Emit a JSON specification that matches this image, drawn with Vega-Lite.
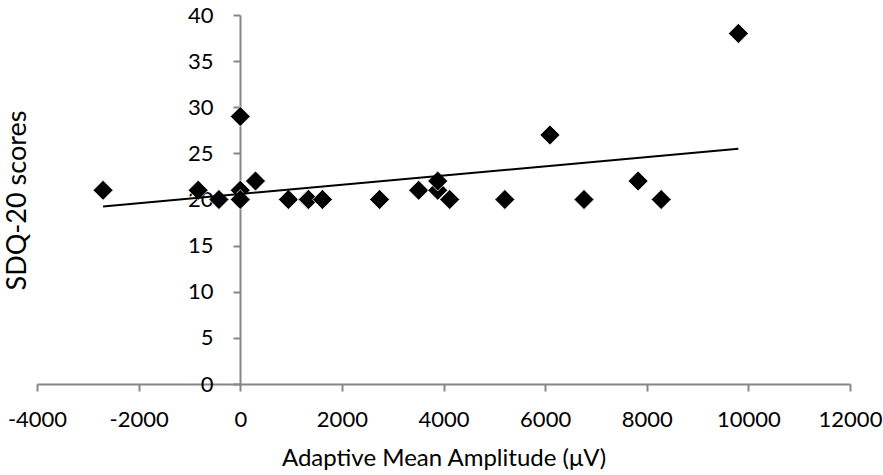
{
  "$schema": "https://vega.github.io/schema/vega-lite/v6.json",
  "width": 813,
  "height": 369,
  "autosize": {"type": "none"},
  "padding": {"left": 37, "top": 15, "right": 33, "bottom": 91},
  "background": "white",
  "config": {
    "view": {"stroke": null},
    "font": "Lato",
    "axis": {"grid": false, "domainColor": "#868686", "tickColor": "#868686", "domainWidth": 2, "tickWidth": 2, "tickSize": 7, "labelColor": "black", "titleColor": "black", "labelFont": "Lato", "titleFont": "Lato", "labelFontSize": 22, "titleFontWeight": "normal", "labelExpr": "datum.value + ''", "labelOverlap": false, "labelFlush": false, "labelBound": false}
  },
  "data": {
    "values": [
      {"amp": -2700, "sdq": 21},
      {"amp": -828, "sdq": 21},
      {"amp": -420, "sdq": 20},
      {"amp": 0, "sdq": 29},
      {"amp": 0, "sdq": 21},
      {"amp": 0, "sdq": 20},
      {"amp": 300, "sdq": 22},
      {"amp": 947, "sdq": 20},
      {"amp": 1330, "sdq": 20},
      {"amp": 1345, "sdq": 20},
      {"amp": 1617, "sdq": 20},
      {"amp": 2742, "sdq": 20},
      {"amp": 3511, "sdq": 21},
      {"amp": 3886, "sdq": 21},
      {"amp": 3886, "sdq": 22},
      {"amp": 4122, "sdq": 20},
      {"amp": 5207, "sdq": 20},
      {"amp": 6095, "sdq": 27},
      {"amp": 6765, "sdq": 20},
      {"amp": 7830, "sdq": 22},
      {"amp": 8284, "sdq": 20},
      {"amp": 9803, "sdq": 38}
    ]
  },
  "encoding": {
    "x": {
      "field": "amp", "type": "quantitative",
      "scale": {"domain": [-4000, 12000], "nice": false, "zero": false},
      "axis": {"title": "Adaptive Mean Amplitude (μV)", "values": [-4000, -2000, 0, 2000, 4000, 6000, 8000, 10000, 12000], "labelPadding": 18, "titleFontSize": 24, "titleBaseline": "alphabetic", "titleY": 81}
    },
    "y": {
      "field": "sdq", "type": "quantitative",
      "scale": {"domain": [0, 40], "nice": false},
      "axis": {"title": "SDQ-20 scores", "values": [0, 5, 10, 15, 20, 25, 30, 35, 40], "offset": -203, "labelPadding": 20, "titleFontSize": 27, "titleAngle": 270, "titleAlign": "center", "titleBaseline": "middle", "titleX": -223, "titleY": 185}
    }
  },
  "layer": [
    {
      "mark": {"type": "point", "shape": "diamond", "filled": true, "fill": "black", "stroke": "white", "strokeWidth": 0.75, "size": 400, "opacity": 1}
    },
    {
      "transform": [{"regression": "sdq", "on": "amp", "extent": [-2700, 9803]}],
      "mark": {"type": "line", "color": "black", "strokeWidth": 2}
    }
  ]
}
